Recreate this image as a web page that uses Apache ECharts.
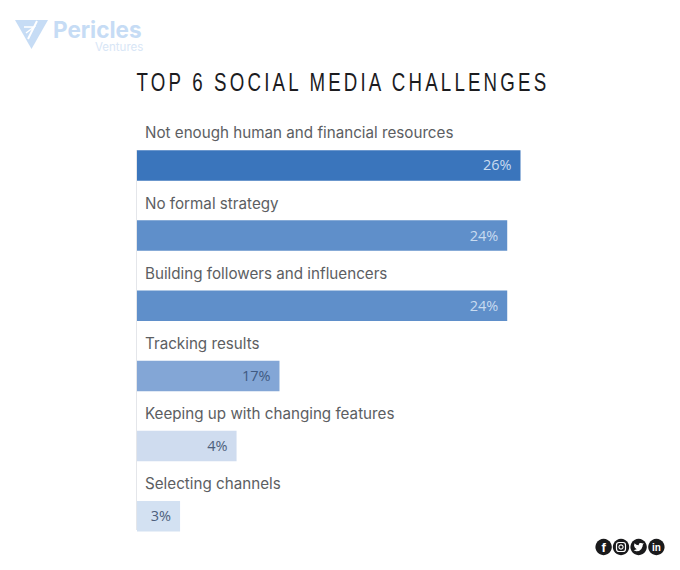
<!DOCTYPE html>
<html>
<head>
<meta charset="utf-8">
<style>html,body{margin:0;padding:0;background:#fff}#c{width:680px;height:570px}</style>
<script src="https://cdn.jsdelivr.net/npm/echarts@6/dist/echarts.min.js"></script>
</head>
<body>
<div id="c"></div>
<script>
const categories = ["Not enough human and financial resources","No formal strategy","Building followers and influencers","Tracking results","Keeping up with changing features","Selecting channels"];
const printedPercent = [26,24,24,17,4,3];
// The picture's bars are not in proportion to their printed numbers: these are the lengths as drawn.
const drawnLength = [26,25.1,25.1,9.66,6.75,2.92];
const barColors = ["#3a75bc","#5f8fca","#5f8fca","#83a6d6","#cfdcef","#d3e1f2"];
const labelColors = ["#c9dbf0","#c9dbf0","#c9dbf0","#3f5a82","#4d5f7c","#4d5f7c"];
const titleText = "TOP 6 SOCIAL MEDIA CHALLENGES";

const chart = echarts.init(document.getElementById('c'), null, {renderer:'svg', width:680, height:570});
const logoColor = "#c6dcf5";
const birdOutline = [[23,3],[20,4.4],[18,3],[15.5,3],[13,4.5],[12.1,7.4],[12.1,8.4],[7,7],[3,4],[2,9],[4,13.5],[8,17],[1,19],[7,21],[13,20.5],[18,16.5],[20.5,11],[21,7.6]];
const iconX = [603.6,621,638.6,656.4], iconY = 547;
const iconText = (t,cx,size)=>({type:"text",x:cx,y:iconY,style:{text:t,fill:"#fff",fontFamily:"Liberation Sans",fontWeight:"bold",fontSize:size,align:"center",verticalAlign:"middle"}});
chart.setOption({
  animation:false,
  backgroundColor:"#fff",
  grid:{left:137,top:130.3,width:383.5,height:421},
  xAxis:{type:"value",min:0,max:26,show:false},
  yAxis:{type:"category",inverse:true,data:categories,
    axisLine:{show:false},
    axisTick:{show:false},
    axisLabel:{inside:true,align:"left",verticalAlign:"bottom",margin:8,padding:[0,0,25,0],
      fontFamily:"Inter, Open Sans",fontSize:15.2,color:"#5c5e62"}},
  series:[{type:"bar",barWidth:30.5,silent:true,
    data:drawnLength.map((v,i)=>({value:v,itemStyle:{color:barColors[i]},
      label:{color:labelColors[i]}})),
    label:{show:true,position:"insideRight",distance:9,offset:[0,-0.5],fontFamily:"Open Sans",fontSize:14.5,
      formatter:p=>printedPercent[p.dataIndex]+"%"}}],
  graphic:[
    {type:"text",x:136.5,y:82,scaleX:0.72,style:{text:titleText,fontFamily:"Liberation Sans",fontSize:26,fill:"#1c1c1f",verticalAlign:"middle"}},
    {type:"line",shape:{x1:136.5,y1:150,x2:136.5,y2:530},style:{stroke:"#e4e6ea",lineWidth:1}},
    {type:"polygon",shape:{points:[[15,20],[48,20],[31.5,49]]},style:{fill:logoColor}},
    {type:"polyline",shape:{points:[[37,21],[28,39]]},style:{stroke:"#fff",lineWidth:2,fill:null}},
    {type:"polyline",shape:{points:[[24,27],[34,27],[26,33]]},style:{stroke:"#fff",lineWidth:1.5,fill:null}},
    {type:"text",x:53,y:29,style:{text:"Pericles",fontFamily:"Inter, Open Sans",fontWeight:"bold",fontSize:22.5,lineHeight:18,fill:logoColor,verticalAlign:"middle"}},
    {type:"text",x:95,y:47,style:{text:"Ventures",fontFamily:"Inter, Open Sans",fontSize:11.5,lineHeight:10,fill:"#d8e6f6",verticalAlign:"middle"}},
    ...iconX.map(cx=>({type:"circle",shape:{cx,cy:iconY,r:8.2},style:{fill:"#1a1a1c"}})),
    iconText("f",iconX[0],13),
    {type:"rect",shape:{x:iconX[1]-4.5,y:iconY-4.5,width:9,height:9,r:2.5},style:{fill:null,stroke:"#fff",lineWidth:1.2}},
    {type:"circle",shape:{cx:iconX[1],cy:iconY,r:2.1},style:{fill:null,stroke:"#fff",lineWidth:1.1}},
    {type:"polygon",shape:{points:birdOutline.map(p=>[iconX[2]-5.5+p[0]*0.46,iconY-5.5+p[1]*0.46])},style:{fill:"#fff"}},
    iconText("in",iconX[3],10)
  ]
});
document.querySelectorAll('#c text').forEach(t=>{
  if(t.textContent===titleText) t.setAttribute('letter-spacing','4.4');
});
</script>
</body>
</html>
